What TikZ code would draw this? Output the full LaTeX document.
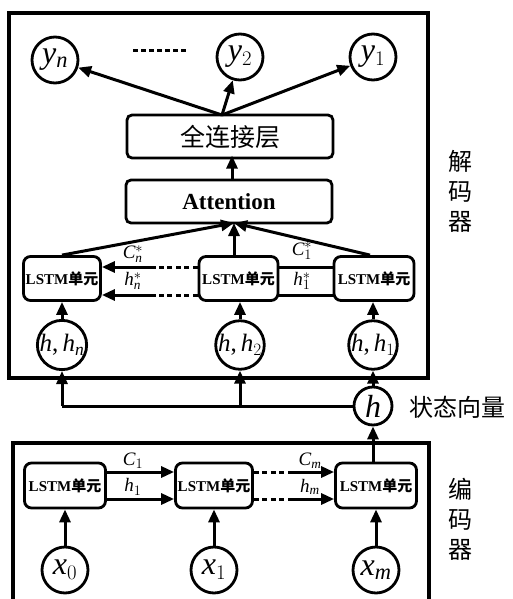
\documentclass[tikz,border=0pt]{standalone}
\usepackage{fontspec}
\setmainfont{Liberation Serif}
\newfontfamily\tnr{Liberation Serif}[NFSSFamily=tnr]
\newfontfamily\cjk{Noto Sans CJK SC}
\DeclareSymbolFont{letters}{TU}{tnr}{m}{it}
\DeclareSymbolFont{operators}{TU}{tnr}{m}{n}
\newcommand\cma{\mathpunct{\textrm{,}}}
\usetikzlibrary{arrows.meta}
\begin{document}
\begin{tikzpicture}[x=1pt,y=-1pt,
  frame/.style={line width=3.4pt},
  ln/.style={line width=3pt},
  arr/.style={line width=3pt,-{Triangle[length=13pt,width=11pt]}},
  dsh/.style={line width=3pt,dash pattern=on 5pt off 3.5pt},
  circ/.style={circle,draw,line width=2.8pt,minimum size=46pt,inner sep=0pt,font=\fontsize{32}{34}\selectfont},
  hcirc/.style={circle,draw,line width=2.8pt,minimum size=46pt,inner sep=0pt,font=\fontsize{25}{27}\selectfont},
  bigbox/.style={draw,line width=2.8pt,rounded corners=5pt,minimum width=206pt,minimum height=43pt,inner sep=0pt},
  lstm/.style={draw,line width=2.8pt,rounded corners=7pt,minimum height=44pt,inner sep=0pt,font=\fontsize{15}{17}\selectfont\bfseries},
  lbl/.style={font=\fontsize{19}{21}\selectfont,inner sep=0pt},
  side/.style={font=\fontsize{24}{30}\selectfont\cjk,align=center,inner sep=0pt}]
\useasboundingbox (0,0) rectangle (512,599);
\clip (0,0) rectangle (512,599);
% frames
\draw[frame] (9,13) rectangle (428,378);
\draw[frame] (13,443) rectangle (429,620);
% decoder outputs
\node[circ] (yn) at (55,60) {$y_n$};
\node[circ] (y2) at (240,57) {$y_2$};
\node[circ] (y1) at (373,57) {$y_1$};
\coordinate (da) at (133,51);
\coordinate (db) at (187,51);
\draw[line width=3pt,dash pattern=on 5pt off 3pt] (da) -- (db);
\node[bigbox,font=\fontsize{25}{27}\selectfont\cjk] (fc) at (230,136.5) {全连接层};
\node[bigbox,font=\fontsize{23}{25}\selectfont\bfseries] (att) at (229,201.5) {Attention};
\coordinate (fct) at (222,115);
\draw[arr] (fct) -- (yn);
\draw[arr] (fct) -- (y2);
\draw[arr] (fct) -- (y1);
\draw[arr] (att.north -| fct) ++(10,0) -- ++(0,-23);
% decoder LSTM
\node[lstm,minimum width=77pt] (d1) at (62,278.5) {LSTM{\cjk 单元}};
\node[lstm,minimum width=79pt] (d2) at (238.5,278.5) {LSTM{\cjk 单元}};
\node[lstm,minimum width=80pt] (d3) at (374,278.5) {LSTM{\cjk 单元}};
\coordinate (attb) at (234,223);
\draw[arr] (d1.north) -- (attb);
\draw[arr] (d3.north) ++(-4,0) -- (attb);
\draw[arr] (d2.north -| attb) -- (attb);
% decoder horizontal links
\coordinate (cnd) at (155,267);
\coordinate (hnd) at (155,295);
\draw[dsh] (d2.west |- cnd) -- (cnd);
\draw[arr] (cnd) -- (d1.east |- cnd);
\draw[dsh] (d2.west |- hnd) -- (hnd);
\draw[arr] (hnd) -- (d1.east |- hnd);
\node[lbl] (lcn) at (133,254) {$C_n^*$};
\node[lbl] (lhn) at (133,281) {$h_n^*$};
\draw[ln] (d2.east |- cnd) -- (d3.west |- cnd);
\draw[ln] (d2.east |- hnd) -- (d3.west |- hnd);
\node[lbl] (lc1) at (302,251) {$C_1^*$};
\node[lbl] (lh1) at (302,281) {$h_1^*$};
% h circles
\node[hcirc] (c1) at (62,345) {$h\cma h_n$};
\node[hcirc] (c2) at (240,345) {$h\cma h_2$};
\node[hcirc] (c3) at (373,345) {$h\cma h_1$};
\draw[arr] (c1.north) -- (d1.south);
\draw[arr] (c2.north) -- (c2.north |- d2.south);
\draw[arr] (c3.north) -- (c3.north |- d3.south);
% state vector
\node[circ,minimum size=38pt] (h) at (373,406) {$h$};
\node[side,anchor=west] (st) at (409,407) {状态向量};
\coordinate (bl) at (62,406);
\draw[ln] (h.west) -- (bl);
\draw[arr] (bl) -- (c1.south);
\draw[arr] (c2.south |- bl) -- (c2.south);
\draw[arr] (h.north) -- (c3.south);
% encoder
\node[lstm,minimum width=81pt,minimum height=45pt] (e1) at (65,485.5) {LSTM{\cjk 单元}};
\node[lstm,minimum width=77pt,minimum height=45pt] (e2) at (214,485.5) {LSTM{\cjk 单元}};
\node[lstm,minimum width=81pt,minimum height=45pt] (e3) at (376,485.5) {LSTM{\cjk 单元}};
\draw[arr] (e3.north -| h) -- (h.south);
\coordinate (ec) at (0,472);
\coordinate (eh) at (0,499);
\draw[arr] (e1.east |- ec) -- (e2.west |- ec);
\draw[arr] (e1.east |- eh) -- (e2.west |- eh);
\coordinate (ecd) at (285,472);
\coordinate (ehd) at (285,499);
\coordinate (ecs) at (288,472);
\coordinate (ehs) at (288,499);
\draw[dsh] (e2.east |- ec) -- (ecd);
\draw[arr] (ecs) -- (e3.west |- ec);
\draw[dsh] (e2.east |- eh) -- (ehd);
\draw[arr] (ehs) -- (e3.west |- eh);
\node[lbl] (ec1) at (133,461) {$C_1$};
\node[lbl] (eh1) at (133,487) {$h_1$};
\node[lbl] (ecm) at (310,461) {$C_m$};
\node[lbl] (ehm) at (310,487) {$h_m$};
\node[circ] (x0) at (65,570) {$x_0$};
\node[circ] (x1) at (214,570) {$x_1$};
\node[circ] (xm) at (376,570) {$x_m$};
\draw[arr] (x0) -- (e1);
\draw[arr] (x1) -- (e2);
\draw[arr] (xm) -- (e3);
% side labels
\node[side] (dec) at (460,191) {解\\码\\器};
\node[side] (enc) at (460,519) {编\\码\\器};
\end{tikzpicture}
\end{document}
